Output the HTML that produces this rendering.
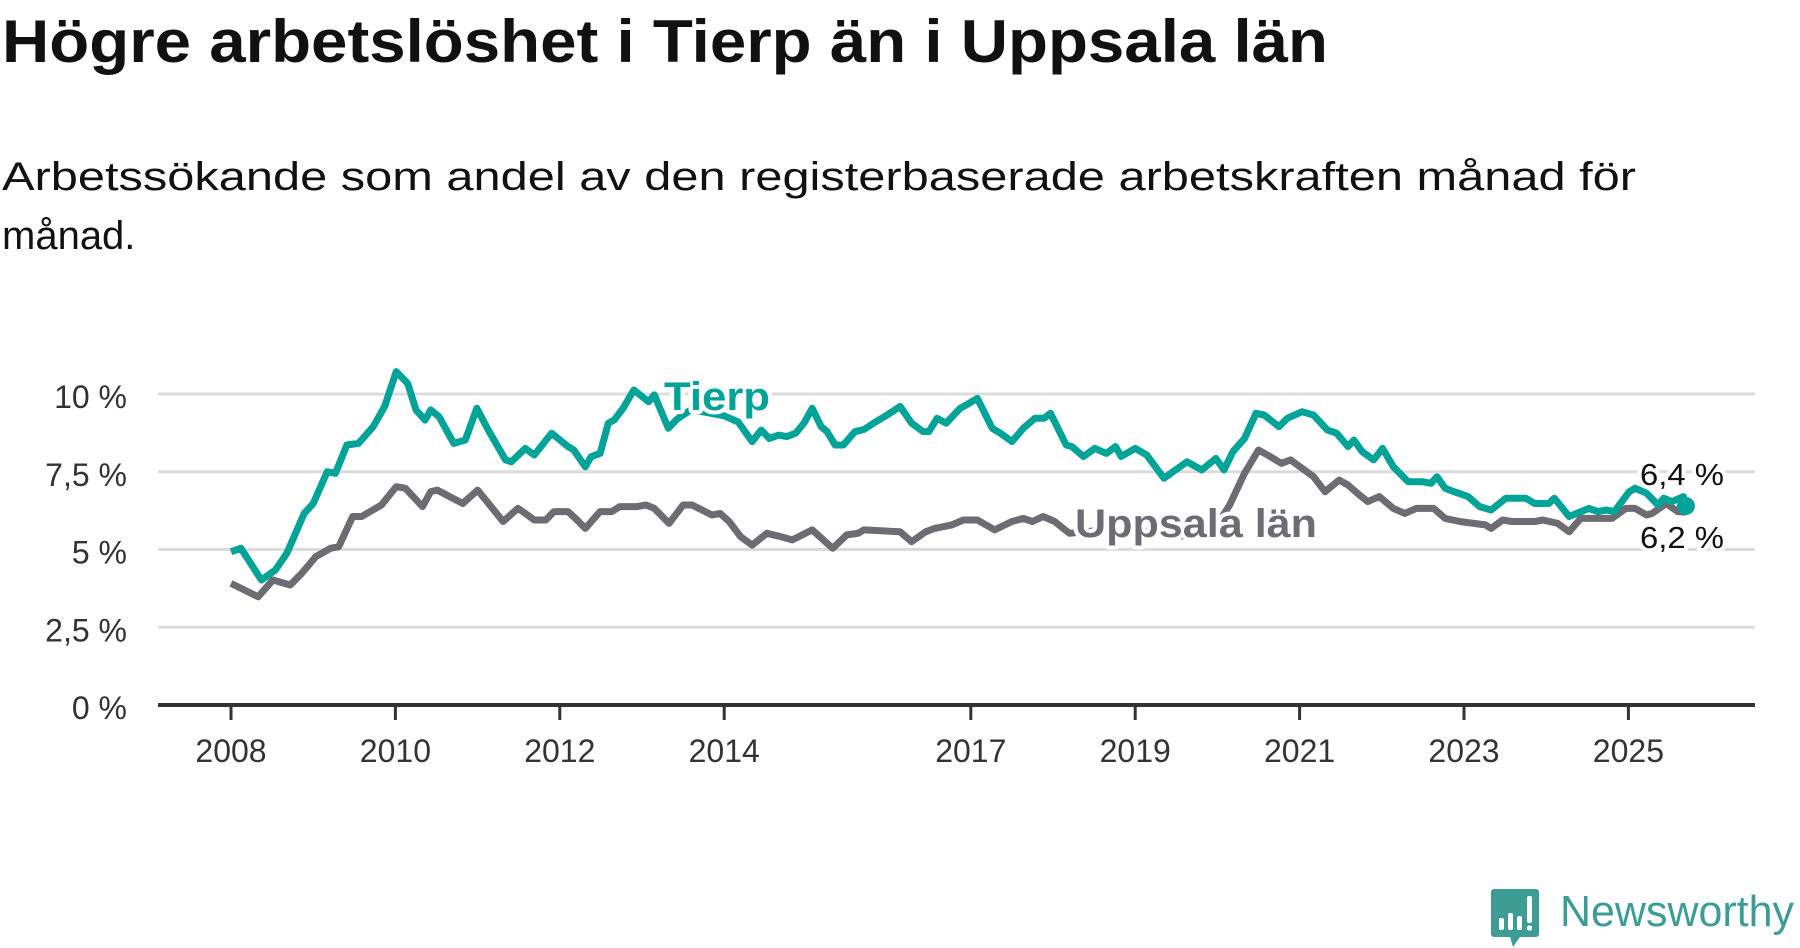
<!DOCTYPE html>
<html><head><meta charset="utf-8"><style>
html,body{margin:0;padding:0;background:#fff;width:1800px;height:948px;overflow:hidden}
svg{display:block;font-family:"Liberation Sans",sans-serif}
.halo{paint-order:stroke;stroke:#fff;stroke-width:8px;stroke-linejoin:round}
</style></head><body>
<svg id="chart" width="1800" height="948" viewBox="0 0 1800 948">
<text x="2" y="62" font-size="60" font-weight="bold" fill="#111" textLength="1326" lengthAdjust="spacingAndGlyphs">Högre arbetslöshet i Tierp än i Uppsala län</text>
<text font-size="40" fill="#111"><tspan x="2" y="190" textLength="1634" lengthAdjust="spacingAndGlyphs">Arbetssökande som andel av den registerbaserade arbetskraften månad för</tspan><tspan x="2" y="249">månad.</tspan></text>
<g id="grid"></g>
<g id="yaxis"></g>
<g id="xaxis"></g>
<g id="series"></g>
<g id="labels"></g>
<g>
<path d="M1494 889 h42 a3 3 0 0 1 3 3 v42 a3 3 0 0 1 -3 3 h-16 l-7 10 l-3 -10 h-16 a3 3 0 0 1 -3 -3 v-42 a3 3 0 0 1 3 -3z" fill="#3d9d95"/>
<rect x="1499" y="918" width="5" height="12" rx="2" fill="#fff"/><rect x="1508" y="913" width="5" height="17" rx="2" fill="#fff"/><rect x="1517" y="916" width="5" height="14" rx="2" fill="#fff"/><rect x="1527" y="896" width="5" height="27" rx="2" fill="#fff"/><circle cx="1529.5" cy="928" r="2.7" fill="#fff"/>
<text x="1560" y="926" font-size="44" fill="#3d9d95" textLength="234" lengthAdjust="spacingAndGlyphs">Newsworthy</text>
</g>
</svg>
<script>
const yTicks=[0,2.5,5,7.5,10];
const yTickLabels=["0 %","2,5 %","5 %","7,5 %","10 %"];
const xTicks=[2008,2010,2012,2014,2017,2019,2021,2023,2025];
const tierpDates=[2008.0,2008.12,2008.37,2008.54,2008.68,2008.89,2009.0,2009.17,2009.27,2009.41,2009.55,2009.73,2009.87,2010.01,2010.15,2010.25,2010.36,2010.43,2010.53,2010.71,2010.85,2010.99,2011.13,2011.34,2011.41,2011.58,2011.69,2011.9,2012.1,2012.17,2012.31,2012.38,2012.49,2012.59,2012.66,2012.77,2012.9,2013.08,2013.15,2013.32,2013.43,2013.6,2013.8,2014.0,2014.17,2014.34,2014.45,2014.55,2014.66,2014.76,2014.87,2014.97,2015.07,2015.18,2015.25,2015.35,2015.45,2015.59,2015.7,2015.84,2015.98,2016.14,2016.28,2016.42,2016.49,2016.59,2016.7,2016.87,2016.98,2017.08,2017.26,2017.36,2017.5,2017.64,2017.78,2017.89,2017.97,2018.16,2018.23,2018.37,2018.51,2018.65,2018.76,2018.83,2019.0,2019.14,2019.35,2019.49,2019.63,2019.81,2019.98,2020.08,2020.19,2020.33,2020.47,2020.57,2020.75,2020.85,2021.03,2021.17,2021.34,2021.45,2021.59,2021.66,2021.76,2021.9,2022.01,2022.14,2022.32,2022.49,2022.6,2022.67,2022.77,2022.88,2023.05,2023.19,2023.33,2023.51,2023.75,2023.86,2024.03,2024.1,2024.28,2024.52,2024.63,2024.73,2024.83,2025.01,2025.08,2025.22,2025.36,2025.43,2025.53,2025.67,2025.7];
const tierpValues=[4.93,5.04,4.02,4.34,4.88,6.16,6.48,7.5,7.45,8.36,8.41,8.95,9.6,10.72,10.34,9.49,9.16,9.49,9.27,8.41,8.52,9.54,8.84,7.88,7.82,8.25,8.04,8.74,8.31,8.2,7.66,7.98,8.09,9.06,9.16,9.54,10.13,9.75,9.97,8.9,9.2,9.5,9.4,9.3,9.1,8.47,8.84,8.57,8.68,8.63,8.74,9.06,9.54,8.95,8.79,8.36,8.36,8.79,8.86,9.1,9.32,9.6,9.06,8.79,8.79,9.22,9.06,9.54,9.7,9.86,8.9,8.74,8.47,8.9,9.22,9.22,9.38,8.36,8.31,7.99,8.25,8.09,8.31,7.99,8.25,8.04,7.29,7.56,7.82,7.56,7.93,7.56,8.15,8.57,9.38,9.32,8.95,9.22,9.43,9.32,8.84,8.74,8.31,8.52,8.15,7.88,8.25,7.66,7.18,7.18,7.13,7.34,6.97,6.86,6.7,6.38,6.27,6.65,6.65,6.48,6.48,6.65,6.06,6.32,6.22,6.27,6.22,6.86,6.97,6.81,6.43,6.65,6.54,6.7,6.4];
const uppsalaDates=[2008.0,2008.33,2008.51,2008.72,2008.86,2009.03,2009.21,2009.31,2009.48,2009.59,2009.83,2010.01,2010.12,2010.33,2010.43,2010.51,2010.82,2011.0,2011.1,2011.31,2011.49,2011.58,2011.69,2011.83,2011.93,2012.1,2012.21,2012.31,2012.49,2012.63,2012.73,2012.94,2013.05,2013.15,2013.33,2013.5,2013.61,2013.85,2013.95,2014.06,2014.2,2014.34,2014.52,2014.69,2014.83,2015.07,2015.32,2015.49,2015.63,2015.7,2016.14,2016.28,2016.45,2016.56,2016.77,2016.91,2017.08,2017.29,2017.5,2017.64,2017.75,2017.88,2018.02,2018.2,2018.5,2018.8,2019.1,2019.4,2019.7,2019.95,2020.15,2020.33,2020.5,2020.61,2020.78,2020.89,2021.03,2021.17,2021.31,2021.48,2021.59,2021.73,2021.83,2021.97,2022.14,2022.28,2022.42,2022.63,2022.77,2022.95,2023.12,2023.26,2023.33,2023.47,2023.58,2023.86,2023.96,2024.14,2024.28,2024.42,2024.56,2024.8,2024.97,2025.08,2025.22,2025.29,2025.46,2025.6,2025.7];
const uppsalaValues=[3.91,3.48,4.02,3.86,4.23,4.77,5.04,5.09,6.06,6.06,6.43,7.02,6.97,6.38,6.86,6.91,6.48,6.91,6.59,5.9,6.32,6.16,5.95,5.95,6.22,6.22,5.95,5.68,6.22,6.22,6.38,6.38,6.43,6.32,5.84,6.43,6.43,6.11,6.16,5.9,5.41,5.14,5.52,5.41,5.31,5.63,5.04,5.47,5.52,5.63,5.57,5.25,5.57,5.68,5.79,5.95,5.95,5.63,5.9,6.0,5.9,6.06,5.9,5.52,5.6,5.5,5.6,5.5,5.4,5.6,6.43,7.45,8.2,8.04,7.77,7.88,7.61,7.34,6.86,7.23,7.07,6.75,6.54,6.7,6.32,6.16,6.32,6.32,6.0,5.9,5.84,5.79,5.68,5.95,5.9,5.9,5.95,5.84,5.57,6.0,6.0,6.0,6.32,6.32,6.11,6.16,6.48,6.22,6.2];
const NS="http://www.w3.org/2000/svg";
const x=v=>231+(v-2008)*82.2;
const y=v=>705-v*31.1;
function mk(tag,parent,attrs){const e=document.createElementNS(NS,tag);for(const k in attrs)e.setAttribute(k,attrs[k]);parent.appendChild(e);return e;}
const grid=document.getElementById('grid'),ya=document.getElementById('yaxis'),xa=document.getElementById('xaxis');
yTicks.forEach((t,i)=>{
  if(t>0){const g=mk('line',grid,{x1:158,x2:1755,y1:y(t),y2:y(t),stroke:'#dcdcdc','stroke-width':3});
  
  }
  const tx=mk('text',ya,{x:127,y:y(t)+14,'font-size':32,fill:'#333','text-anchor':'end'});
  
  
  tx.textContent=yTickLabels[i];
});
const ax=mk('line',xa,{x1:158,x2:1755,y1:705,y2:705,stroke:'#333','stroke-width':4});


xTicks.forEach(t=>{
  const tk=mk('line',xa,{x1:x(t),x2:x(t),y1:705,y2:720,stroke:'#333','stroke-width':3});
  
  
  const tl=mk('text',xa,{x:x(t),y:762,'font-size':32,fill:'#333','text-anchor':'middle'});
  
  
  tl.textContent=t;
});
const ser=document.getElementById('series');
function path(d,v){return d.map((dd,i)=>(i?'L':'M')+x(dd).toFixed(1)+' '+y(v[i]).toFixed(1)).join(' ');}
const pu=mk('path',ser,{d:path(uppsalaDates,uppsalaValues),fill:'none',stroke:'#6d6c72','stroke-width':7,'stroke-linejoin':'round'});


const pt=mk('path',ser,{d:path(tierpDates,tierpValues),fill:'none',stroke:'#00a398','stroke-width':7,'stroke-linejoin':'round'});


const n=tierpDates.length-1;
const dot=mk('circle',ser,{cx:x(tierpDates[n]),cy:y(tierpValues[n]),r:9,fill:'#00a398'});


const lab=document.getElementById('labels');
function label(txt,xx,yy,size,fill,bold,name,len){
  const t=mk('text',lab,{x:xx,y:yy,'font-size':size,fill:fill,'font-weight':bold?'bold':'normal',class:'halo'});
  if(len){t.setAttribute('textLength',len);t.setAttribute('lengthAdjust','spacingAndGlyphs');}
  
  
  t.textContent=txt;}
label('Tierp',664,410,40,'#00a398',true,'tierp-label',106);
label('Uppsala län',1075,537,40,'#6d6c72',true,'uppsala-label',242);
label('6,4 %',1640,485,31,'#111',false,'tierp-end-value',84);
label('6,2 %',1640,548,31,'#111',false,'uppsala-end-value',84);
</script>
</body></html>
